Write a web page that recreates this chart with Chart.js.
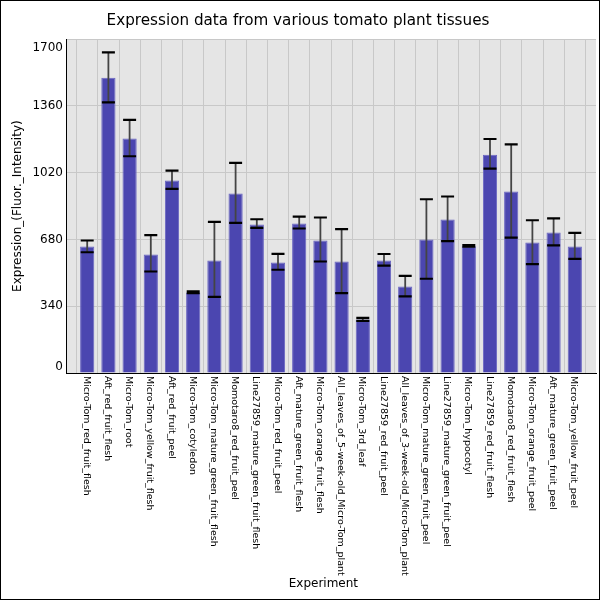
<!DOCTYPE html>
<html>
<head>
<meta charset="utf-8">
<script src="https://cdn.jsdelivr.net/npm/chart.js@4"></script>
<style>
html,body{margin:0;padding:0;background:#fff;}
#wrap{width:600px;height:600px;position:relative;}
</style>
</head>
<body>
<div id="wrap"><canvas id="c"></canvas></div>
<script>
const categories = [
  "Micro-Tom_red_fruit_flesh",
  "Aft_red_fruit_flesh",
  "Micro-Tom_root",
  "Micro-Tom_yellow_fruit_flesh",
  "Aft_red_fruit_peel",
  "Micro-Tom_cotyledon",
  "Micro-Tom_mature_green_fruit_flesh",
  "Momotaro8_red_fruit_peel",
  "Line27859_mature_green_fruit_flesh",
  "Micro-Tom_red_fruit_peel",
  "Aft_mature_green_fruit_flesh",
  "Micro-Tom_orange_fruit_flesh",
  "All_leaves_of_5-week-old_Micro-Tom_plant",
  "Micro-Tom_3rd_leaf",
  "Line27859_red_fruit_peel",
  "All_leaves_of_3-week-old_Micro-Tom_plant",
  "Micro-Tom_mature_green_fruit_peel",
  "Line27859_mature_green_fruit_peel",
  "Micro-Tom_hypocotyl",
  "Line27859_red_fruit_flesh",
  "Momotaro8_red_fruit_flesh",
  "Micro-Tom_orange_fruit_peel",
  "Aft_mature_green_fruit_peel",
  "Micro-Tom_yellow_fruit_peel"
];
const values  = [644, 1504, 1194, 604, 980, 410, 573, 914, 756, 563, 761, 675, 568, 272, 573, 441, 680, 782, 646, 1112, 924, 665, 715, 644];
const errHigh = [675, 1633, 1289, 702, 1031, 416, 770, 1070, 783, 607, 797, 792, 733, 281, 606, 495, 885, 899, 651, 1192, 1165, 778, 788, 714];
const errLow  = [615, 1378, 1104, 517, 938, 407, 388, 765, 739, 526, 736, 568, 407, 266, 547, 390, 480, 672, 644, 1041, 690, 555, 650, 581];
const yTicks = [0, 340, 680, 1020, 1360, 1700];
const titleText = "Expression data from various tomato plant tissues";
const xTitle = "Experiment";
const yTitle = "Expression_(Fluor._Intensity)";

const FONT = '"DejaVu Sans", sans-serif';

const customPlugin = {
  id: 'custom',
  beforeDraw(chart) {
    const {ctx, chartArea: a} = chart;
    ctx.save();
    ctx.fillStyle = '#ffffff';
    ctx.fillRect(0, 0, chart.width, chart.height);
    ctx.fillStyle = '#e5e5e5';
    ctx.fillRect(a.left, a.top, a.right - a.left, a.bottom - a.top);
    ctx.restore();
    const items = chart.scales.y.getLabelItems();
    items.forEach(it => {
      if (it._adj) return;
      it._adj = true;
      if (it.label === '1700') it.options.translation[1] += 9;
      else if (it.label === '0') it.options.translation[1] -= 6;
    });
  },
  afterDatasetsDraw(chart) {
    const {ctx} = chart;
    const xs = chart.scales.x, ys = chart.scales.y;
    ctx.save();
    for (let i = 0; i < values.length; i++) {
      const x = xs.getPixelForValue(i);
      const yh = ys.getPixelForValue(errHigh[i]);
      const yl = ys.getPixelForValue(errLow[i]);
      ctx.strokeStyle = '#444444';
      ctx.lineWidth = 1.8;
      ctx.beginPath(); ctx.moveTo(x, yh); ctx.lineTo(x, yl); ctx.stroke();
      ctx.strokeStyle = '#000000';
      ctx.lineWidth = 2.2;
      ctx.beginPath();
      ctx.moveTo(x - 6.5, yh); ctx.lineTo(x + 6.5, yh);
      ctx.moveTo(x - 6.5, yl); ctx.lineTo(x + 6.5, yl);
      ctx.stroke();
    }
    ctx.restore();
  },
  afterDraw(chart) {
    const {ctx} = chart;
    const xs = chart.scales.x;
    ctx.save();
    ctx.font = '9.5px ' + FONT;
    ctx.fillStyle = '#000000';
    ctx.textAlign = 'left';
    ctx.textBaseline = 'middle';
    categories.forEach((c, i) => {
      const x = xs.getPixelForValue(i) - 1;
      ctx.save();
      ctx.translate(x, xs.top + 3);
      ctx.rotate(Math.PI / 2);
      ctx.fillText(c, 0, 0);
      ctx.restore();
    });
    ctx.strokeStyle = '#000000';
    ctx.lineWidth = 1;
    ctx.strokeRect(0.5, 0.5, chart.width - 1, chart.height - 1);
    ctx.restore();
  }
};

new Chart(document.getElementById('c'), {
  type: 'bar',
  data: {
    datasets: [{
      data: values.map((v, i) => ({x: i, y: v})),
      backgroundColor: '#4b46b0',
      borderColor: '#6a66c2',
      borderWidth: 1,
      barPercentage: 0.67,
      categoryPercentage: 1.0
    }]
  },
  options: {
    responsive: true,
    maintainAspectRatio: false,
    animation: false,
    devicePixelRatio: 1,
    layout: {padding: {left: 0, right: 4, top: 0, bottom: 0}},
    plugins: {
      legend: {display: false},
      tooltip: {enabled: false},
      title: {
        display: true,
        text: titleText,
        color: '#000000',
        font: {family: FONT, size: 15.2, weight: 'normal'},
        padding: {top: 12, bottom: 9}
      }
    },
    scales: {
      x: {
        type: 'linear',
        min: -1,
        max: 24,
        offset: false,
        afterFit: s => { s.height = 227; s.paddingLeft = 0; s.paddingRight = 0; },
        afterBuildTicks: s => { s.ticks = Array.from({length: 26}, (_, k) => ({value: k - 1})); },
        ticks: {
          stepSize: 1,
          autoSkip: false,
          minRotation: 90,
          maxRotation: 90,
          color: 'rgba(0,0,0,0)',
          font: {family: FONT, size: 9.5},
          callback: v => (v >= 0 && v < categories.length) ? categories[v] : ''
        },
        grid: {color: '#c8c8c8', lineWidth: 1, drawTicks: false},
        border: {color: '#000000', width: 1},
        title: {
          display: true,
          text: xTitle + '    ',
          color: '#000000',
          font: {family: FONT, size: 12},
          padding: {top: 0, bottom: 9}
        }
      },
      y: {
        min: 0,
        max: 1700,
        afterFit: s => { s.width = 66; s.paddingTop = 0; s.paddingBottom = 0; },
        afterBuildTicks: s => { s.ticks = yTicks.map(v => ({value: v})); },
        ticks: {
          color: '#000000',
          font: {family: FONT, size: 12},
          padding: 3,
          callback: v => String(v)
        },
        grid: {color: '#c8c8c8', lineWidth: 1, drawTicks: false},
        border: {color: '#000000', width: 1},
        title: {
          display: true,
          text: yTitle,
          color: '#000000',
          font: {family: FONT, size: 12},
          padding: {top: 11, bottom: 0}
        }
      }
    }
  },
  plugins: [customPlugin]
});
</script>
</body>
</html>
